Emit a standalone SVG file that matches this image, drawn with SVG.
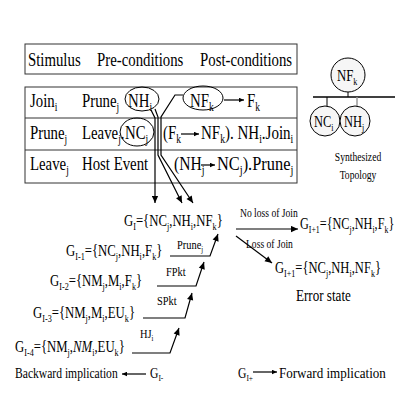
<svg xmlns="http://www.w3.org/2000/svg" width="409" height="409" viewBox="0 0 409 409">
<style>
text{font-family:"Liberation Serif","Times New Roman",serif;fill:#000}
.h{font-size:19.5px}
.c{font-size:16px}
.g{font-size:17px}
.b{font-size:14.5px}
.m{font-size:13px}
.l{font-size:12px}
.s{font-size:64%}
.box{fill:#fff;stroke:#333;stroke-width:1}
.ln{fill:none;stroke:#000;stroke-width:1.2}
.el{fill:none;stroke:#000;stroke-width:1}
.nd{fill:#f6f6f6;stroke:#000;stroke-width:1}
</style>
<defs>
<marker id="ah" viewBox="0 0 10 10" refX="10" refY="5" markerWidth="8" markerHeight="7" orient="auto" markerUnits="userSpaceOnUse"><path d="M0,0.5 L10,5 L0,9.5 z" fill="#000"/></marker>
<marker id="as" viewBox="0 0 10 10" refX="10" refY="5" markerWidth="6" markerHeight="5" orient="auto" markerUnits="userSpaceOnUse"><path d="M0,0.5 L10,5 L0,9.5 z" fill="#000"/></marker>
</defs>
<rect width="409" height="409" fill="#fff"/>

<g id="header">
<rect class="box" x="25" y="44" width="272" height="30"/>
<text class="h" transform="translate(28,66) scale(0.76,1)">Stimulus</text>
<text class="h" transform="translate(97,66) scale(0.76,1)">Pre-conditions</text>
<text class="h" transform="translate(200,66) scale(0.76,1)">Post-conditions</text>
</g>

<g id="table">
<rect class="box" x="25" y="87" width="272" height="96"/>
<line x1="25" y1="118" x2="297" y2="118" stroke="#333"/>
<line x1="25" y1="150" x2="297" y2="150" stroke="#333"/>
<text class="h" transform="translate(30,107) scale(0.76,1)">Join<tspan class="s" dy="4">i</tspan></text>
<text class="h" transform="translate(82,107) scale(0.76,1)">Prune<tspan class="s" dy="4">j</tspan></text>
<text class="h" transform="translate(128,107) scale(0.76,1)">NH<tspan class="s" dy="4">i</tspan></text>
<ellipse class="el" cx="142" cy="99" rx="17" ry="12"/>
<text class="h" transform="translate(190,107) scale(0.76,1)">NF<tspan class="s" dy="4">k</tspan></text>
<ellipse class="el" cx="203" cy="98" rx="20" ry="12"/>
<line class="ln" x1="224" y1="100" x2="244" y2="100" marker-end="url(#as)" stroke-width="1"/>
<text class="h" transform="translate(247,107) scale(0.76,1)">F<tspan class="s" dy="4">k</tspan></text>

<text class="h" transform="translate(30,139) scale(0.76,1)">Prune<tspan class="s" dy="4">j</tspan></text>
<text class="h" transform="translate(82,139) scale(0.76,1)">Leave<tspan class="s" dy="4">j</tspan><tspan dy="-4">.</tspan></text>
<text class="h" transform="translate(125,139) scale(0.76,1)">NC<tspan class="s" dy="4">j</tspan></text>
<ellipse class="el" cx="137" cy="132" rx="17" ry="14"/>
<text class="h" transform="translate(163,139) scale(0.76,1)">(F<tspan class="s" dy="4">k</tspan></text>
<line class="ln" x1="181" y1="134" x2="199" y2="134" marker-end="url(#as)" stroke-width="1"/>
<text class="h" transform="translate(201,139) scale(0.77,1)">NF<tspan class="s" dy="4">k</tspan><tspan dy="-4">). NH</tspan><tspan class="s" dy="4">i</tspan><tspan dy="-4">.Join</tspan><tspan class="s" dy="4">i</tspan></text>

<text class="h" transform="translate(30,170) scale(0.76,1)">Leave<tspan class="s" dy="4">j</tspan></text>
<text class="h" transform="translate(82,170) scale(0.76,1)">Host Event</text>
<text class="h" transform="translate(174,170) scale(0.8,1)">(NH<tspan class="s" dy="4">j</tspan></text>
<line class="ln" x1="201" y1="165" x2="215" y2="165" marker-end="url(#as)" stroke-width="1"/>
<text class="h" transform="translate(217,170) scale(0.84,1)">NC<tspan class="s" dy="4">j</tspan><tspan dy="-4">).Prune</tspan><tspan class="s" dy="4">j</tspan></text>
</g>

<g id="topology">
<line x1="348" y1="92" x2="348" y2="97" stroke="#000"/>
<line x1="313" y1="97" x2="395" y2="97" stroke="#000" stroke-width="1.3"/>
<line x1="327" y1="97" x2="327" y2="106" stroke="#000"/>
<line x1="357" y1="97" x2="357" y2="106" stroke="#999" stroke-width="1.5"/>
<circle class="nd" cx="348" cy="75" r="17"/>
<text class="c" transform="translate(337,81) scale(0.8,1)">NF<tspan class="s" dy="4">k</tspan></text>
<circle class="nd" cx="325" cy="121" r="15"/>
<text class="c" transform="translate(314,127) scale(0.78,1)">NC<tspan class="s" dy="4">i</tspan></text>
<circle class="nd" cx="355" cy="121" r="15"/>
<text class="c" transform="translate(344,127) scale(0.78,1)">NH<tspan class="s" dy="4">j</tspan></text>
<text class="l" text-anchor="middle" transform="translate(358,161) scale(0.8,1)">Synthesized</text>
<text class="l" text-anchor="middle" transform="translate(358,179) scale(0.8,1)">Topology</text>
</g>

<g id="states">
<text class="g" transform="translate(124,226) scale(0.75,1)">G<tspan class="s" dy="4">I</tspan><tspan dy="-4">={NC</tspan><tspan class="s" dy="4">j</tspan><tspan dy="-4">,NH</tspan><tspan class="s" dy="4">i</tspan><tspan dy="-4">,NF</tspan><tspan class="s" dy="4">k</tspan><tspan dy="-4">}</tspan></text>
<text class="g" transform="translate(300,229) scale(0.72,1)">G<tspan class="s" dy="4">I+1</tspan><tspan dy="-4">={NC</tspan><tspan class="s" dy="4">j</tspan><tspan dy="-4">,NH</tspan><tspan class="s" dy="4">i</tspan><tspan dy="-4">,F</tspan><tspan class="s" dy="4">k</tspan><tspan dy="-4">}</tspan></text>
<text class="g" transform="translate(275,273) scale(0.74,1)">G<tspan class="s" dy="4">I+1</tspan><tspan dy="-4">={NC</tspan><tspan class="s" dy="4">j</tspan><tspan dy="-4">,NH</tspan><tspan class="s" dy="4">i</tspan><tspan dy="-4">,NF</tspan><tspan class="s" dy="4">k</tspan><tspan dy="-4">}</tspan></text>
<text class="g" transform="translate(296,301) scale(0.77,1)">Error state</text>
<text class="g" transform="translate(66,256) scale(0.75,1)">G<tspan class="s" dy="4">I-1</tspan><tspan dy="-4">={NC</tspan><tspan class="s" dy="4">j</tspan><tspan dy="-4">,NH</tspan><tspan class="s" dy="4">i</tspan><tspan dy="-4">,F</tspan><tspan class="s" dy="4">k</tspan><tspan dy="-4">}</tspan></text>
<text class="g" transform="translate(50,286) scale(0.75,1)">G<tspan class="s" dy="4">I-2</tspan><tspan dy="-4">={NM</tspan><tspan class="s" dy="4">j</tspan><tspan dy="-4">,M</tspan><tspan class="s" dy="4">i</tspan><tspan dy="-4">,F</tspan><tspan class="s" dy="4">k</tspan><tspan dy="-4">}</tspan></text>
<text class="g" transform="translate(33,318) scale(0.75,1)">G<tspan class="s" dy="4">I-3</tspan><tspan dy="-4">={NM</tspan><tspan class="s" dy="4">j</tspan><tspan dy="-4">,M</tspan><tspan class="s" dy="4">i</tspan><tspan dy="-4">,EU</tspan><tspan class="s" dy="4">k</tspan><tspan dy="-4">}</tspan></text>
<text class="g" transform="translate(15,352) scale(0.75,1)">G<tspan class="s" dy="4">I-4</tspan><tspan dy="-4">={NM</tspan><tspan class="s" dy="4">j</tspan><tspan dy="-4">,</tspan><tspan font-style="italic">NM</tspan><tspan class="s" dy="4">i</tspan><tspan dy="-4">,EU</tspan><tspan class="s" dy="4">k</tspan><tspan dy="-4">}</tspan></text>
</g>

<g id="legend">
<text class="b" transform="translate(15,378) scale(0.8,1)">Backward implication</text>
<text class="b" transform="translate(150,378) scale(0.8,1)">G<tspan class="s" dy="3">I-</tspan></text>
<text class="b" transform="translate(238,378) scale(0.8,1)">G<tspan class="s" dy="3">I+</tspan></text>
<text class="b" transform="translate(279,378) scale(0.9,1)">Forward implication</text>
</g>

<g id="labels">
<text class="l" transform="translate(240,217) scale(0.8,1)">No loss of Join</text>
<text class="l" transform="translate(246,248) scale(0.8,1)">Loss of Join</text>
<text class="m" transform="translate(177,249) scale(0.8,1)">Prune<tspan class="s" dy="3">j</tspan></text>
<text class="m" transform="translate(166,276) scale(0.8,1)">FPkt</text>
<text class="m" transform="translate(157,305) scale(0.8,1)">SPkt</text>
<text class="m" transform="translate(140,338) scale(0.8,1)">HJ<tspan class="s" dy="3">i</tspan></text>
</g>

<g id="connectors">
<path class="ln" d="M151,110 L155,118 L155,203" marker-end="url(#ah)"/>
<path class="ln" d="M155,109 L158,117 L158,155 L182,203" marker-end="url(#ah)"/>
<path class="ln" d="M183,95 L175,95 L161,117 L161,155 L193,203" marker-end="url(#ah)"/>
<line class="ln" x1="236" y1="229" x2="298" y2="229" marker-end="url(#ah)"/>
<line class="ln" x1="236" y1="236" x2="272" y2="263" marker-end="url(#ah)"/>
<path class="ln" d="M170,256 L210,256 L218,234" marker-end="url(#ah)"/>
<path class="ln" d="M157,286 L196,286 L204,262" marker-end="url(#ah)"/>
<path class="ln" d="M143,318 L185,318 L192,293" marker-end="url(#ah)"/>
<path class="ln" d="M132,353 L170,353 L179,328" marker-end="url(#ah)"/>
<line class="ln" x1="146" y1="374" x2="122" y2="374" marker-end="url(#as)" stroke-width="1"/>
<line class="ln" x1="253" y1="372" x2="277" y2="372" marker-end="url(#as)" stroke-width="1"/>
</g>
</svg>
